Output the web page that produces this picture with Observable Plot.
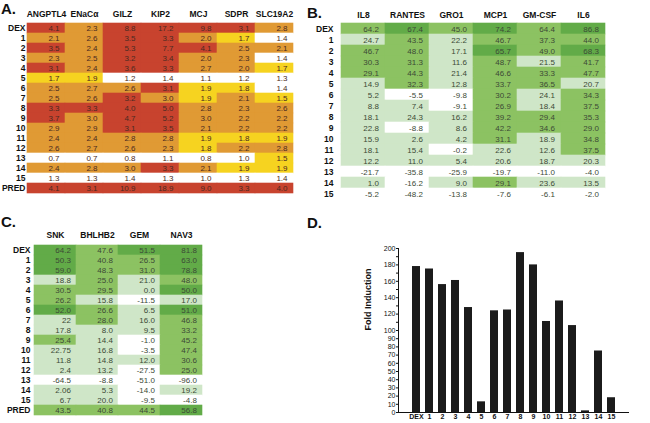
<!DOCTYPE html>
<html><head><meta charset="utf-8">
<script src="https://cdn.jsdelivr.net/npm/d3@7"></script>
<script src="https://cdn.jsdelivr.net/npm/@observablehq/plot@0.6"></script>
<style>
body{margin:0;background:#fff;font-family:"Liberation Sans",Arial,sans-serif;}
</style></head><body>
<script>
// ---------- Panel A ----------
const rowsA = ["DEX","1","2","3","4","5","6","7","8","9","10","11","12","13","14","15","PRED"];
const genesA = ["ANGPTL4","ENaCα","GILZ","KIP2","MCJ","SDPR","SLC19A2"];
const valuesA = [
  ["4.1","2.3","8.8","17.2","9.8","3.1","2.8"],
  ["2.1","2.6","3.5","3.3","2.0","1.7","1.4"],
  ["3.5","2.4","5.3","7.7","4.1","2.5","2.1"],
  ["2.3","2.5","3.2","3.4","2.0","2.3","1.4"],
  ["3.1","2.4","3.6","3.3","2.7","2.0","1.7"],
  ["1.7","1.9","1.2","1.4","1.1","1.2","1.3"],
  ["2.5","2.7","2.6","3.1","1.9","1.8","1.4"],
  ["2.5","2.6","3.2","3.0","1.9","2.1","1.5"],
  ["3.3","3.3","4.0","5.0","2.8","2.3","2.6"],
  ["3.7","3.0","4.7","5.2","3.0","2.2","2.2"],
  ["2.9","2.9","3.1","3.5","2.1","2.2","2.2"],
  ["2.4","2.4","2.8","2.8","1.9","1.8","1.9"],
  ["2.6","2.7","2.6","2.3","1.8","2.2","2.8"],
  ["0.7","0.7","0.8","1.1","0.8","1.0","1.5"],
  ["2.4","2.8","3.0","3.3","2.1","1.9","1.9"],
  ["1.3","1.3","1.4","1.3","1.0","1.3","1.4"],
  ["4.1","3.1","10.9","18.9","9.0","3.3","4.0"]
];
// ---------- Panel B ----------
const rowsB = ["DEX","1","2","3","4","5","6","7","8","9","10","11","12","13","14","15"];
const genesB = ["IL8","RANTES","GRO1","MCP1","GM-CSF","IL6"];
const valuesB = [
  ["64.2","67.4","45.0","74.2","64.4","86.8"],
  ["24.7","43.5","22.2","46.7","37.3","44.0"],
  ["46.7","48.0","17.1","65.7","49.0","68.3"],
  ["30.3","31.3","11.6","48.7","21.5","41.7"],
  ["29.1","44.3","21.4","46.6","33.3","47.7"],
  ["14.9","32.3","12.8","33.7","36.5","20.7"],
  ["5.2","-5.5","-9.8","30.2","24.1","34.3"],
  ["8.8","7.4","-9.1","26.9","18.4","37.5"],
  ["18.1","24.3","16.2","39.2","29.4","35.3"],
  ["22.8","-8.8","8.6","42.2","34.6","29.0"],
  ["15.9","2.6","4.2","31.1","18.9","34.8"],
  ["18.1","15.4","-0.2","22.6","12.6","37.5"],
  ["12.2","11.0","5.4","20.6","18.7","20.3"],
  ["-21.7","-35.8","-25.9","-19.7","-11.0","-4.0"],
  ["1.0","-16.2","9.0","29.1","23.6","13.5"],
  ["-5.2","-48.2","-13.8","-7.6","-6.1","-2.0"]
];
// ---------- Panel C ----------
const rowsC = ["DEX","1","2","3","4","5","6","7","8","9","10","11","12","13","14","15","PRED"];
const genesC = ["SNK","BHLHB2","GEM","NAV3"];
const valuesC = [
  ["64.2","47.6","51.5","81.8"],
  ["50.3","40.8","26.5","63.0"],
  ["59.0","48.3","31.0","78.8"],
  ["18.8","25.0","21.0","48.0"],
  ["30.5","29.5","0.0","50.0"],
  ["26.2","15.8","-11.5","17.0"],
  ["52.0","26.6","6.5","51.0"],
  ["22","28.0","16.0","46.8"],
  ["17.8","8.0","9.5","33.2"],
  ["25.4","14.4","-1.0","45.2"],
  ["22.75","16.8","-3.5","47.4"],
  ["11.8","14.8","12.0","30.6"],
  ["2.4","13.2","-27.5","25.0"],
  ["-64.5","-8.8","-51.0","-96.0"],
  ["2.06","5.3","-14.0","19.2"],
  ["6.7","20.0","-9.5","-4.8"],
  ["43.5","40.8","44.5","56.8"]
];
// ---------- Panel D ----------
const barCats = ["DEX","1","2","3","4","5","6","7","8","9","10","11","12","13","14","15"];
const barValues = [178,175,156,161,128,13,124,125,195,180,111,136,106,2,75,18];

const FONT = '"Liberation Sans",Arial,Helvetica,sans-serif';
const NS = "http://www.w3.org/2000/svg";
const outer = document.createElementNS(NS, "svg");
outer.setAttribute("width", 650);
outer.setAttribute("height", 423);
outer.setAttribute("viewBox", "0 0 650 423");
outer.style.display = "block";
outer.style.background = "#fff";
document.body.appendChild(outer);

function toTable(rows, genes, vals){
  const t = [];
  rows.forEach((r,i)=>genes.forEach((g,j)=>t.push({row:r, gene:g, label:vals[i][j], v:+vals[i][j]})));
  return t;
}
function heat(o){
  const t = toTable(o.rows, o.genes, o.vals);
  const bw = (o.width - o.mL - o.mR) / o.genes.length;
  return Plot.plot({
    width:o.width, height:o.height,
    marginLeft:o.mL, marginRight:o.mR, marginTop:o.mT, marginBottom:o.mB,
    style:{fontFamily:FONT, fontSize:"8.5px", fontWeight:"bold", color:"#111", background:"transparent"},
    x:{domain:o.genes, padding:0, axis:"top", tickSize:0, tickPadding:o.hdrPad, label:null},
    y:{domain:o.rows, padding:0, tickSize:0, tickPadding:o.rowPad, label:null},
    color:{type:"threshold", domain:o.cDomain, range:o.cRange},
    marks:[
      Plot.cell(t, {x:"gene", y:"row", fill:"v", inset:-0.3}),
      Plot.text(t, {x:"gene", y:"row", text:"label", textAnchor:"end", dx:bw/2 - o.pad,
        fill:o.textColor, fontSize:8, fontWeight:"normal"})
    ]
  });
}
function place(svg, left, top, w, h){
  svg.setAttribute("x", left);
  svg.setAttribute("y", top);
  svg.style.width = w + "px";
  svg.style.height = h + "px";
  svg.style.maxWidth = "none";
  svg.style.overflow = "visible";
  outer.appendChild(svg);
}
function label(txt, x, y){
  const t = document.createElementNS(NS, "text");
  t.setAttribute("x", x); t.setAttribute("y", y);
  t.setAttribute("font-family", "Liberation Sans, Arial, sans-serif");
  t.setAttribute("font-size", 15);
  t.setAttribute("font-weight", "bold");
  t.setAttribute("fill", "#111");
  t.textContent = txt;
  outer.appendChild(t);
}

const redScale = ["#ffffff","#f6d320","#e09a34","#c8432e"];
const greenB = ["#ffffff","#cfe6c8","#8cc262","#62ab48"];

// Panel D first, so nothing else is painted after it in the same region
const bars = barCats.map((c,i)=>({cat:c, v:barValues[i]}));
const yFmt = d => (d > 100 && d % 20 !== 0) ? "" : String(d);
const pd = Plot.plot({
  width:345, height:208, marginLeft:93, marginRight:22, marginTop:33, marginBottom:11,
  style:{fontFamily:FONT, fontSize:"7px", color:"#111", background:"transparent"},
  x:{domain:barCats, paddingInner:0.4, paddingOuter:0.91, label:null},
  y:{domain:[0,200], label:null},
  marks:[
    Plot.barY(bars, {x:"cat", y:"v", fill:"#1b1b1b"}),
    Plot.frame({anchor:"bottom", stroke:"#111"}),
    Plot.frame({anchor:"left", stroke:"#111"}),
    Plot.axisX({tickSize:0, tickPadding:2, fontWeight:"bold", label:null}),
    Plot.text(["Fold Induction"], {frameAnchor:"left", rotate:-90, dx:-30, fontSize:9, fontWeight:"bold", fill:"#111"}),
    Plot.axisY({ticks:20, tickFormat:yFmt, tickSize:2, tickPadding:1, label:null, fill:"#111", stroke:"#111"})
  ]
});
place(pd, 305, 215, 345, 208);

place(heat({rows:rowsA, genes:genesA, vals:valuesA, width:305, height:205,
  mL:27, mR:12, mT:19.8, mB:8, hdrPad:3, rowPad:2, pad:6, textColor:"#4a2a22",
  cDomain:[1.45,2,3.05], cRange:redScale}), 0, 0, 305, 205);
place(heat({rows:rowsB, genes:genesB, vals:valuesB, width:345, height:205,
  mL:33, mR:43, mT:21.4, mB:5.1, hdrPad:3.5, rowPad:5, pad:7, textColor:"#3c4a36",
  cDomain:[0,25,65], cRange:greenB}), 305, 0, 345, 205);
place(heat({rows:rowsC, genes:genesC, vals:valuesC, width:305, height:208,
  mL:32, mR:102, mT:26.5, mB:5.5, hdrPad:4, rowPad:2, pad:6, textColor:"#3c4a36",
  cDomain:[0,25,50], cRange:greenB}), 0, 215, 305, 208);

label("A.", 1, 14);
label("B.", 307, 18);
label("C.", 1, 227);
label("D.", 307, 228);
</script>
</body></html>
